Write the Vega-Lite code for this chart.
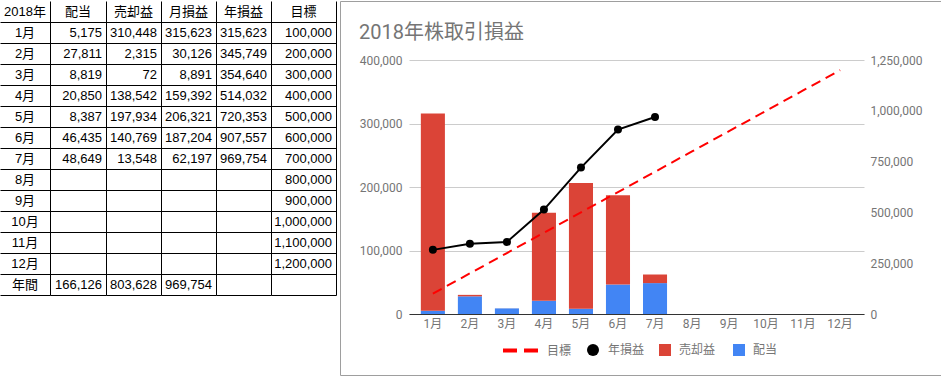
{
  "$schema": "https://vega.github.io/schema/vega-lite/v6.json",
  "padding": 0,
  "spacing": 3,
  "config": {
    "view": {"stroke": null},
    "font": "Roboto, 'Noto Sans CJK JP', sans-serif"
  },
  "datasets": {
    "table": [
      {"row": "2018年", "col": "2018年", "text": "2018年"},
      {"row": "2018年", "col": "配当", "text": "配当"},
      {"row": "2018年", "col": "売却益", "text": "売却益"},
      {"row": "2018年", "col": "月損益", "text": "月損益"},
      {"row": "2018年", "col": "年損益", "text": "年損益"},
      {"row": "2018年", "col": "目標", "text": "目標"},
      {"row": "1月", "col": "2018年", "text": "1月"},
      {"row": "2月", "col": "2018年", "text": "2月"},
      {"row": "3月", "col": "2018年", "text": "3月"},
      {"row": "4月", "col": "2018年", "text": "4月"},
      {"row": "5月", "col": "2018年", "text": "5月"},
      {"row": "6月", "col": "2018年", "text": "6月"},
      {"row": "7月", "col": "2018年", "text": "7月"},
      {"row": "8月", "col": "2018年", "text": "8月"},
      {"row": "9月", "col": "2018年", "text": "9月"},
      {"row": "10月", "col": "2018年", "text": "10月"},
      {"row": "11月", "col": "2018年", "text": "11月"},
      {"row": "12月", "col": "2018年", "text": "12月"},
      {"row": "年間", "col": "2018年", "text": "年間"},
      {"row": "1月", "col": "配当", "text": "5,175"},
      {"row": "1月", "col": "売却益", "text": "310,448"},
      {"row": "1月", "col": "月損益", "text": "315,623"},
      {"row": "1月", "col": "年損益", "text": "315,623"},
      {"row": "1月", "col": "目標", "text": "100,000"},
      {"row": "2月", "col": "配当", "text": "27,811"},
      {"row": "2月", "col": "売却益", "text": "2,315"},
      {"row": "2月", "col": "月損益", "text": "30,126"},
      {"row": "2月", "col": "年損益", "text": "345,749"},
      {"row": "2月", "col": "目標", "text": "200,000"},
      {"row": "3月", "col": "配当", "text": "8,819"},
      {"row": "3月", "col": "売却益", "text": "72"},
      {"row": "3月", "col": "月損益", "text": "8,891"},
      {"row": "3月", "col": "年損益", "text": "354,640"},
      {"row": "3月", "col": "目標", "text": "300,000"},
      {"row": "4月", "col": "配当", "text": "20,850"},
      {"row": "4月", "col": "売却益", "text": "138,542"},
      {"row": "4月", "col": "月損益", "text": "159,392"},
      {"row": "4月", "col": "年損益", "text": "514,032"},
      {"row": "4月", "col": "目標", "text": "400,000"},
      {"row": "5月", "col": "配当", "text": "8,387"},
      {"row": "5月", "col": "売却益", "text": "197,934"},
      {"row": "5月", "col": "月損益", "text": "206,321"},
      {"row": "5月", "col": "年損益", "text": "720,353"},
      {"row": "5月", "col": "目標", "text": "500,000"},
      {"row": "6月", "col": "配当", "text": "46,435"},
      {"row": "6月", "col": "売却益", "text": "140,769"},
      {"row": "6月", "col": "月損益", "text": "187,204"},
      {"row": "6月", "col": "年損益", "text": "907,557"},
      {"row": "6月", "col": "目標", "text": "600,000"},
      {"row": "7月", "col": "配当", "text": "48,649"},
      {"row": "7月", "col": "売却益", "text": "13,548"},
      {"row": "7月", "col": "月損益", "text": "62,197"},
      {"row": "7月", "col": "年損益", "text": "969,754"},
      {"row": "7月", "col": "目標", "text": "700,000"},
      {"row": "8月", "col": "目標", "text": "800,000"},
      {"row": "9月", "col": "目標", "text": "900,000"},
      {"row": "10月", "col": "目標", "text": "1,000,000"},
      {"row": "11月", "col": "目標", "text": "1,100,000"},
      {"row": "12月", "col": "目標", "text": "1,200,000"},
      {"row": "年間", "col": "配当", "text": "166,126"},
      {"row": "年間", "col": "売却益", "text": "803,628"},
      {"row": "年間", "col": "月損益", "text": "969,754"}
    ],
    "chart": [
      {"month": "1月", "series": "配当", "value": 5175},
      {"month": "2月", "series": "配当", "value": 27811},
      {"month": "3月", "series": "配当", "value": 8819},
      {"month": "4月", "series": "配当", "value": 20850},
      {"month": "5月", "series": "配当", "value": 8387},
      {"month": "6月", "series": "配当", "value": 46435},
      {"month": "7月", "series": "配当", "value": 48649},
      {"month": "1月", "series": "売却益", "value": 310448},
      {"month": "2月", "series": "売却益", "value": 2315},
      {"month": "3月", "series": "売却益", "value": 72},
      {"month": "4月", "series": "売却益", "value": 138542},
      {"month": "5月", "series": "売却益", "value": 197934},
      {"month": "6月", "series": "売却益", "value": 140769},
      {"month": "7月", "series": "売却益", "value": 13548},
      {"month": "1月", "series": "年損益", "value": 315623},
      {"month": "2月", "series": "年損益", "value": 345749},
      {"month": "3月", "series": "年損益", "value": 354640},
      {"month": "4月", "series": "年損益", "value": 514032},
      {"month": "5月", "series": "年損益", "value": 720353},
      {"month": "6月", "series": "年損益", "value": 907557},
      {"month": "7月", "series": "年損益", "value": 969754},
      {"month": "1月", "series": "目標", "value": 100000},
      {"month": "2月", "series": "目標", "value": 200000},
      {"month": "3月", "series": "目標", "value": 300000},
      {"month": "4月", "series": "目標", "value": 400000},
      {"month": "5月", "series": "目標", "value": 500000},
      {"month": "6月", "series": "目標", "value": 600000},
      {"month": "7月", "series": "目標", "value": 700000},
      {"month": "8月", "series": "目標", "value": 800000},
      {"month": "9月", "series": "目標", "value": 900000},
      {"month": "10月", "series": "目標", "value": 1000000},
      {"month": "11月", "series": "目標", "value": 1100000},
      {"month": "12月", "series": "目標", "value": 1200000}
    ]
  },
  "hconcat": [
    {
      "spacing": 0,
      "bounds": "flush",
      "hconcat": [
        {
          "width": 50, "height": 294,
          "data": {"name": "table"},
          "transform": [{"filter": {"field": "col", "equal": "2018年"}}],
          "mark": {"type": "text", "align": "center", "baseline": "middle", "font": "Liberation Sans, Arial, 'Noto Sans CJK JP', sans-serif", "fontSize": 13, "color": "#000000"},
          "encoding": {
            "y": {"field": "row", "type": "nominal", "scale": {"type": "band", "domain": ["2018年","1月","2月","3月","4月","5月","6月","7月","8月","9月","10月","11月","12月","年間"], "paddingInner": 0, "paddingOuter": 0}, "axis": {"title": null, "labels": false, "ticks": false, "domain": false, "grid": true, "gridColor": "#000000", "bandPosition": 1}},
            "x": {"field": "col", "type": "nominal", "scale": {"type": "band", "domain": ["2018年"], "paddingInner": 0, "paddingOuter": 0}, "axis": {"title": null, "labels": false, "ticks": false, "domain": false, "grid": true, "gridColor": "#000000", "bandPosition": 1}},
            "text": {"field": "text"}
          }
        },
        {
          "width": 56, "height": 294,
          "data": {"name": "table"},
          "transform": [{"filter": {"field": "col", "equal": "配当"}}],
          "encoding": {
            "y": {"field": "row", "type": "nominal", "scale": {"type": "band", "domain": ["2018年","1月","2月","3月","4月","5月","6月","7月","8月","9月","10月","11月","12月","年間"], "paddingInner": 0, "paddingOuter": 0}, "axis": {"title": null, "labels": false, "ticks": false, "domain": false, "grid": true, "gridColor": "#000000", "bandPosition": 1}},
            "text": {"field": "text"}
          },
          "layer": [
            {
              "transform": [{"filter": {"field": "row", "equal": "2018年"}}],
              "mark": {"type": "text", "align": "center", "baseline": "middle", "font": "Liberation Sans, Arial, 'Noto Sans CJK JP', sans-serif", "fontSize": 13, "color": "#000000"},
              "encoding": {"x": {"field": "col", "type": "nominal", "scale": {"type": "band", "domain": ["配当"], "paddingInner": 0, "paddingOuter": 0}, "axis": {"title": null, "labels": false, "ticks": false, "domain": false, "grid": true, "gridColor": "#000000", "bandPosition": 1}}}
            },
            {
              "transform": [{"filter": {"not": {"field": "row", "equal": "2018年"}}}],
              "mark": {"type": "text", "align": "right", "baseline": "middle", "dx": -4, "font": "Liberation Sans, Arial, 'Noto Sans CJK JP', sans-serif", "fontSize": 13, "color": "#000000"},
              "encoding": {"x": {"field": "col", "type": "nominal", "bandPosition": 1, "scale": {"type": "band", "domain": ["配当"], "paddingInner": 0, "paddingOuter": 0}, "axis": {"title": null, "labels": false, "ticks": false, "domain": false, "grid": true, "gridColor": "#000000", "bandPosition": 1}}}
            }
          ]
        },
        {
          "width": 55, "height": 294,
          "data": {"name": "table"},
          "transform": [{"filter": {"field": "col", "equal": "売却益"}}],
          "encoding": {
            "y": {"field": "row", "type": "nominal", "scale": {"type": "band", "domain": ["2018年","1月","2月","3月","4月","5月","6月","7月","8月","9月","10月","11月","12月","年間"], "paddingInner": 0, "paddingOuter": 0}, "axis": {"title": null, "labels": false, "ticks": false, "domain": false, "grid": true, "gridColor": "#000000", "bandPosition": 1}},
            "text": {"field": "text"}
          },
          "layer": [
            {
              "transform": [{"filter": {"field": "row", "equal": "2018年"}}],
              "mark": {"type": "text", "align": "center", "baseline": "middle", "font": "Liberation Sans, Arial, 'Noto Sans CJK JP', sans-serif", "fontSize": 13, "color": "#000000"},
              "encoding": {"x": {"field": "col", "type": "nominal", "scale": {"type": "band", "domain": ["売却益"], "paddingInner": 0, "paddingOuter": 0}, "axis": {"title": null, "labels": false, "ticks": false, "domain": false, "grid": true, "gridColor": "#000000", "bandPosition": 1}}}
            },
            {
              "transform": [{"filter": {"not": {"field": "row", "equal": "2018年"}}}],
              "mark": {"type": "text", "align": "right", "baseline": "middle", "dx": -4, "font": "Liberation Sans, Arial, 'Noto Sans CJK JP', sans-serif", "fontSize": 13, "color": "#000000"},
              "encoding": {"x": {"field": "col", "type": "nominal", "bandPosition": 1, "scale": {"type": "band", "domain": ["売却益"], "paddingInner": 0, "paddingOuter": 0}, "axis": {"title": null, "labels": false, "ticks": false, "domain": false, "grid": true, "gridColor": "#000000", "bandPosition": 1}}}
            }
          ]
        },
        {
          "width": 55, "height": 294,
          "data": {"name": "table"},
          "transform": [{"filter": {"field": "col", "equal": "月損益"}}],
          "encoding": {
            "y": {"field": "row", "type": "nominal", "scale": {"type": "band", "domain": ["2018年","1月","2月","3月","4月","5月","6月","7月","8月","9月","10月","11月","12月","年間"], "paddingInner": 0, "paddingOuter": 0}, "axis": {"title": null, "labels": false, "ticks": false, "domain": false, "grid": true, "gridColor": "#000000", "bandPosition": 1}},
            "text": {"field": "text"}
          },
          "layer": [
            {
              "transform": [{"filter": {"field": "row", "equal": "2018年"}}],
              "mark": {"type": "text", "align": "center", "baseline": "middle", "font": "Liberation Sans, Arial, 'Noto Sans CJK JP', sans-serif", "fontSize": 13, "color": "#000000"},
              "encoding": {"x": {"field": "col", "type": "nominal", "scale": {"type": "band", "domain": ["月損益"], "paddingInner": 0, "paddingOuter": 0}, "axis": {"title": null, "labels": false, "ticks": false, "domain": false, "grid": true, "gridColor": "#000000", "bandPosition": 1}}}
            },
            {
              "transform": [{"filter": {"not": {"field": "row", "equal": "2018年"}}}],
              "mark": {"type": "text", "align": "right", "baseline": "middle", "dx": -4, "font": "Liberation Sans, Arial, 'Noto Sans CJK JP', sans-serif", "fontSize": 13, "color": "#000000"},
              "encoding": {"x": {"field": "col", "type": "nominal", "bandPosition": 1, "scale": {"type": "band", "domain": ["月損益"], "paddingInner": 0, "paddingOuter": 0}, "axis": {"title": null, "labels": false, "ticks": false, "domain": false, "grid": true, "gridColor": "#000000", "bandPosition": 1}}}
            }
          ]
        },
        {
          "width": 55, "height": 294,
          "data": {"name": "table"},
          "transform": [{"filter": {"field": "col", "equal": "年損益"}}],
          "encoding": {
            "y": {"field": "row", "type": "nominal", "scale": {"type": "band", "domain": ["2018年","1月","2月","3月","4月","5月","6月","7月","8月","9月","10月","11月","12月","年間"], "paddingInner": 0, "paddingOuter": 0}, "axis": {"title": null, "labels": false, "ticks": false, "domain": false, "grid": true, "gridColor": "#000000", "bandPosition": 1}},
            "text": {"field": "text"}
          },
          "layer": [
            {
              "transform": [{"filter": {"field": "row", "equal": "2018年"}}],
              "mark": {"type": "text", "align": "center", "baseline": "middle", "font": "Liberation Sans, Arial, 'Noto Sans CJK JP', sans-serif", "fontSize": 13, "color": "#000000"},
              "encoding": {"x": {"field": "col", "type": "nominal", "scale": {"type": "band", "domain": ["年損益"], "paddingInner": 0, "paddingOuter": 0}, "axis": {"title": null, "labels": false, "ticks": false, "domain": false, "grid": true, "gridColor": "#000000", "bandPosition": 1}}}
            },
            {
              "transform": [{"filter": {"not": {"field": "row", "equal": "2018年"}}}],
              "mark": {"type": "text", "align": "right", "baseline": "middle", "dx": -4, "font": "Liberation Sans, Arial, 'Noto Sans CJK JP', sans-serif", "fontSize": 13, "color": "#000000"},
              "encoding": {"x": {"field": "col", "type": "nominal", "bandPosition": 1, "scale": {"type": "band", "domain": ["年損益"], "paddingInner": 0, "paddingOuter": 0}, "axis": {"title": null, "labels": false, "ticks": false, "domain": false, "grid": true, "gridColor": "#000000", "bandPosition": 1}}}
            }
          ]
        },
        {
          "width": 65, "height": 294,
          "data": {"name": "table"},
          "transform": [{"filter": {"field": "col", "equal": "目標"}}],
          "encoding": {
            "y": {"field": "row", "type": "nominal", "scale": {"type": "band", "domain": ["2018年","1月","2月","3月","4月","5月","6月","7月","8月","9月","10月","11月","12月","年間"], "paddingInner": 0, "paddingOuter": 0}, "axis": {"title": null, "labels": false, "ticks": false, "domain": false, "grid": true, "gridColor": "#000000", "bandPosition": 1}},
            "text": {"field": "text"}
          },
          "layer": [
            {
              "transform": [{"filter": {"field": "row", "equal": "2018年"}}],
              "mark": {"type": "text", "align": "center", "baseline": "middle", "font": "Liberation Sans, Arial, 'Noto Sans CJK JP', sans-serif", "fontSize": 13, "color": "#000000"},
              "encoding": {"x": {"field": "col", "type": "nominal", "scale": {"type": "band", "domain": ["目標"], "paddingInner": 0, "paddingOuter": 0}, "axis": {"title": null, "labels": false, "ticks": false, "domain": false, "grid": true, "gridColor": "#000000", "bandPosition": 1}}}
            },
            {
              "transform": [{"filter": {"not": {"field": "row", "equal": "2018年"}}}],
              "mark": {"type": "text", "align": "right", "baseline": "middle", "dx": -4, "font": "Liberation Sans, Arial, 'Noto Sans CJK JP', sans-serif", "fontSize": 13, "color": "#000000"},
              "encoding": {"x": {"field": "col", "type": "nominal", "bandPosition": 1, "scale": {"type": "band", "domain": ["目標"], "paddingInner": 0, "paddingOuter": 0}, "axis": {"title": null, "labels": false, "ticks": false, "domain": false, "grid": true, "gridColor": "#000000", "bandPosition": 1}}}
            }
          ]
        }
      ]
    },
    {
      "width": 601,
      "height": 374,
      "view": {"stroke": "#9e9e9e", "strokeWidth": 1},
      "data": {"name": "chart"},
      "title": {"text": "2018年株取引損益", "anchor": "start", "frame": "group", "orient": "top", "offset": -58, "dx": 19, "baseline": "alphabetic", "fontSize": 20, "fontWeight": "normal", "color": "#757575", "font": "Roboto, 'Noto Sans CJK JP', sans-serif"},
      "encoding": {
        "x": {
          "field": "month", "type": "nominal",
          "scale": {"domain": ["1月","2月","3月","4月","5月","6月","7月","8月","9月","10月","11月","12月"], "range": [69, 524], "paddingInner": 0.35, "paddingOuter": 0.32},
          "axis": {"orient": "bottom", "offset": -61, "title": null, "labelAngle": 0, "ticks": false, "domain": true, "domainColor": "#333333", "domainWidth": 1, "grid": false, "labelPadding": 4, "labelFontSize": 12, "labelColor": "#757575", "labelFont": "Roboto, 'Noto Sans CJK JP', sans-serif"}
        }
      },
      "layer": [
        {
          "transform": [{"filter": {"field": "series", "oneOf": ["配当", "売却益"]}}],
          "mark": {"type": "bar"},
          "encoding": {
            "y": {
              "field": "value", "type": "quantitative", "stack": "zero",
              "scale": {"domain": [0, 400000], "range": [313, 59], "nice": false},
              "axis": {"orient": "left", "offset": -69, "title": null, "values": [0, 100000, 200000, 300000, 400000], "format": ",.0f", "domain": false, "ticks": false, "labelPadding": 7, "labelFlush": false, "grid": true, "gridColor": "#cccccc", "labelFontSize": 12, "labelColor": "#757575", "labelFont": "Roboto, 'Noto Sans CJK JP', sans-serif"}
            },
            "color": {
              "field": "series", "type": "nominal",
              "scale": {"domain": ["売却益", "配当"], "range": ["#db4437", "#4285f4"]},
              "legend": {"orient": "none", "legendX": 659, "legendY": 343, "direction": "horizontal", "title": null, "symbolType": "square", "symbolSize": 144, "symbolStrokeWidth": 0, "labelOffset": 8, "columnPadding": 17, "padding": 0, "labelFontSize": 12, "labelColor": "#757575", "labelFont": "Roboto, 'Noto Sans CJK JP', sans-serif"}
            }
          }
        },
        {
          "encoding": {
            "y": {
              "field": "value", "type": "quantitative",
              "scale": {"domain": [0, 1250000], "range": [313, 59], "nice": false},
              "axis": {"orient": "right", "offset": -77, "title": null, "values": [0, 250000, 500000, 750000, 1000000, 1250000], "format": ",.0f", "domain": false, "ticks": false, "labelPadding": 6, "labelFlush": false, "grid": false, "labelFontSize": 12, "labelColor": "#757575", "labelFont": "Roboto, 'Noto Sans CJK JP', sans-serif"}
            }
          },
          "layer": [
            {
              "transform": [{"filter": {"field": "series", "equal": "目標"}}],
              "mark": {"type": "line", "strokeWidth": 2, "strokeDash": [10, 6]},
              "encoding": {
                "stroke": {
                  "field": "series", "type": "nominal",
                  "scale": {"domain": ["目標"], "range": ["#ff0000"]},
                  "legend": {"orient": "none", "legendX": 501, "legendY": 330, "title": null, "symbolType": "stroke", "symbolSize": 1225, "symbolStrokeWidth": 4, "symbolDash": [14, 7], "labelOffset": 7, "padding": 0, "labelFontSize": 12, "labelColor": "#757575", "labelFont": "Roboto, 'Noto Sans CJK JP', sans-serif"}
                }
              }
            },
            {
              "transform": [{"filter": {"field": "series", "equal": "年損益"}}],
              "mark": {"type": "line", "strokeWidth": 2, "color": "#000000"}
            },
            {
              "transform": [{"filter": {"field": "series", "equal": "年損益"}}],
              "mark": {"type": "point", "filled": true, "size": 64, "opacity": 1},
              "encoding": {
                "fill": {
                  "field": "series", "type": "nominal",
                  "scale": {"domain": ["年損益"], "range": ["#000000"]},
                  "legend": {"orient": "none", "legendX": 587, "legendY": 343, "title": null, "symbolType": "circle", "symbolSize": 144, "symbolStrokeWidth": 0, "labelOffset": 9, "padding": 0, "labelFontSize": 12, "labelColor": "#757575", "labelFont": "Roboto, 'Noto Sans CJK JP', sans-serif"}
                }
              }
            }
          ]
        }
      ],
      "resolve": {"scale": {"y": "independent"}}
    }
  ]
}
